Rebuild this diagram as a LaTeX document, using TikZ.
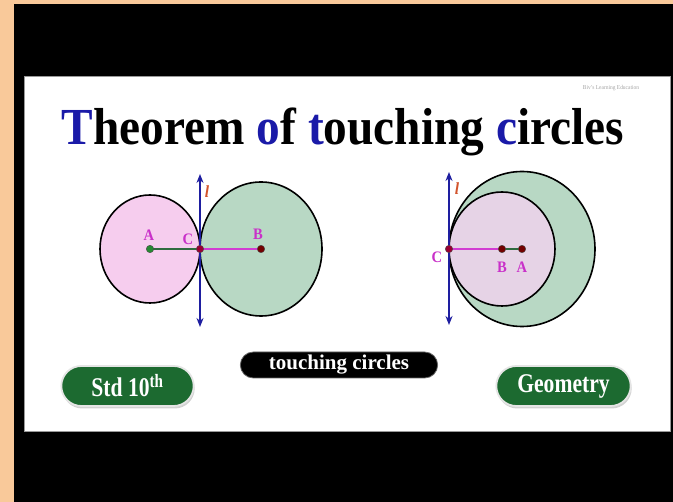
\documentclass[tikz,border=0pt]{standalone}
\usepackage{fontspec}
\setmainfont{Liberation Serif}[FakeStretch=0.91]
\newfontfamily\condfont{Liberation Serif}[FakeStretch=0.8]
\newfontfamily\plainfont{Liberation Serif}
\usepackage{tikz}
\usetikzlibrary{positioning,arrows.meta,calc,shapes.misc,shadows}
\definecolor{frameorange}{HTML}{F9C99A}
\definecolor{tblue}{HTML}{1A1AA8}
\definecolor{pinkfill}{HTML}{F6CDEE}
\definecolor{sagefill}{HTML}{B8D8C4}
\definecolor{lilacfill}{HTML}{E6D3E6}
\definecolor{lineblue}{HTML}{1E1EA0}
\definecolor{lblmag}{HTML}{C930C9}
\definecolor{lblorange}{HTML}{D2542C}
\definecolor{segmag}{HTML}{D23CD2}
\definecolor{seggreen}{HTML}{2F6B3F}
\definecolor{pillgreen}{HTML}{1C6A30}

\begin{document}
\begin{tikzpicture}[x=1pt, y=-1pt,
  circ/.style={draw=black, line width=1.6pt},
  tangent/.style={{Stealth[length=9pt,width=7pt]}-{Stealth[length=9pt,width=7pt]}, draw=lineblue, line width=1.5pt},
  dot/.style={circle, draw=black!70, line width=0.4pt, inner sep=0pt, minimum size=7.5pt},
  lbl/.style={font=\fontsize{16}{17}\selectfont\bfseries, text=lblmag, inner sep=0pt},
  lname/.style={font=\fontsize{17}{18}\selectfont\bfseries\itshape, text=lblorange, inner sep=0pt},
  pill/.style={rounded rectangle, fill=pillgreen, draw=white!80!gray, line width=1.8pt,
               text=white, font=\condfont\fontsize{27}{29}\selectfont\bfseries, minimum height=40pt,
               drop shadow={shadow xshift=1pt, shadow yshift=-2.5pt, opacity=0.35}}]
\useasboundingbox (0,0) rectangle (673,502);
% frame
\fill[frameorange] (0,0) rectangle (673,502);
\fill[black] (14,4) rectangle (673,502);
\fill[white, draw=black!40, line width=0.6pt] (24,76) rectangle (670,431);
\node[font=\fontsize{6}{7}\selectfont, text=black!35, inner sep=0pt] (credit) at (611,88) {Biv's Learning Education};
% title
\node[anchor=base, inner sep=0pt, font=\fontsize{52}{56}\selectfont\bfseries] (title) at (343,145)
  {{\color{tblue}T}heorem {\color{tblue}o}f {\color{tblue}t}ouching {\color{tblue}c}ircles};

% left figure: touching externally
\coordinate (A) at (150,249);
\coordinate (C) at (200,249);
\coordinate (B) at (261,249);
\coordinate (ltop) at (200,174);
\coordinate (lbot) at (200,327);
\fill[sagefill] (B) ellipse [x radius=61pt, y radius=67pt];
\fill[pinkfill] (A) ellipse [x radius=50pt, y radius=54pt];
\draw[circ] (B) ellipse [x radius=61pt, y radius=67pt];
\draw[circ] (A) ellipse [x radius=50pt, y radius=54pt];
\draw[tangent] (lbot) -- (ltop);
\draw[seggreen, line width=1.7pt] (A) -- (C);
\draw[segmag, line width=1.7pt] (C) -- (B);
\node[dot, fill=seggreen!80!green] (dA) at (A) {};
\node[dot, fill=purple!80!black] (dC) at (C) {};
\node[dot, fill=red!45!black] (dB) at (B) {};
\node[lbl] (labA) at (149,235) {A};
\node[lbl] (labC) at (188,239) {C};
\node[lbl] (labB) at (258,234) {B};
\node[lname] (labl) at (207,192) {l};

% right figure: touching internally
\coordinate (C2) at (449,249);
\coordinate (B2) at (502,249);
\coordinate (A2) at (522,249);
\coordinate (rtop) at (449,172);
\coordinate (rbot) at (449,325);
\filldraw[circ, fill=sagefill] (A2) ellipse [x radius=73pt, y radius=77.5pt];
\filldraw[circ, fill=lilacfill] (B2) ellipse [x radius=53pt, y radius=57pt];
\draw[tangent] (rbot) -- (rtop);
\draw[segmag, line width=1.7pt] (C2) -- (B2);
\draw[seggreen, line width=1.7pt] (B2) -- (A2);
\node[dot, fill=purple!80!black] (dC2) at (C2) {};
\node[dot, fill=red!45!black] (dB2) at (B2) {};
\node[dot, fill=red!45!black] (dA2) at (A2) {};
\node[lbl] (labC2) at (437,257) {C};
\node[lbl] (labB2) at (502,267) {B};
\node[lbl] (labA2) at (522,267) {A};
\node[lname] (labl2) at (457,189) {l};

% tags
\node[pill, minimum width=139pt] (std) at (127.5,386) {Std 10\textsuperscript{th}};
\node[pill, minimum width=141pt] (geo) at (563.5,386) {Geometry};
\node[rounded rectangle, fill=black, draw=black!60, line width=0.8pt, minimum width=204pt,
      minimum height=26pt, text=white, font=\plainfont\fontsize{21}{22}\selectfont\bfseries] (topic)
  at (339,365) {touching circles};
\end{tikzpicture}
\end{document}
